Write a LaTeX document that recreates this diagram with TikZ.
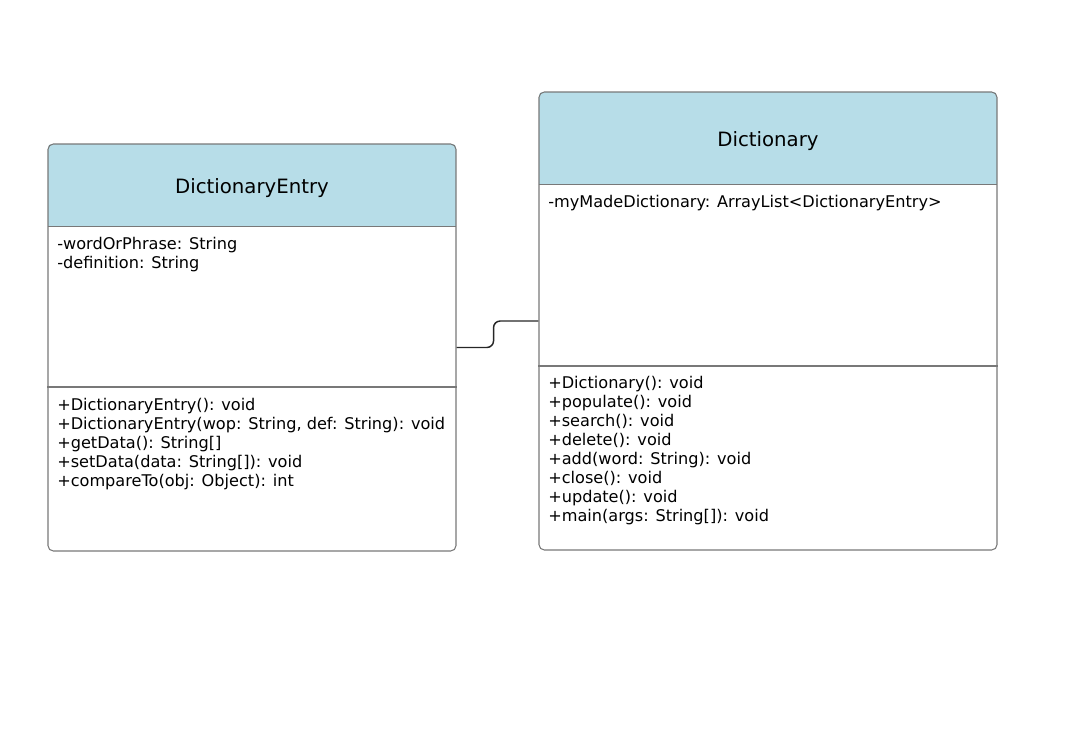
\documentclass[tikz,border=0pt]{standalone}
\usepackage{fontspec}
\setmainfont{DejaVu Sans}
\usetikzlibrary{%
    backgrounds,
    fit,
    positioning
}
\definecolor{headblue}{HTML}{B7DDE8}
\definecolor{edgegray}{HTML}{787878}
\tikzset{
    classbox/.style  = {draw=edgegray, line width=.8pt, rounded corners=4pt, inner sep=0pt},
    headarea/.style  = {inner sep=0pt},
    classname/.style = {font=\fontsize{14.8pt}{17pt}\selectfont, yshift=-2.5pt},
    member/.style    = {anchor=base west, inner sep=0pt, font=\fontsize{12.1pt}{14pt}\selectfont},
    divider/.style   = {draw=edgegray, line width=.8pt},
    assoc/.style     = {draw=black!85, line width=1.1pt, rounded corners=5pt}
}

\begin{document}
\begin{tikzpicture}[x=0.75pt, y=-0.75pt]
    \useasboundingbox (0,0) rectangle (1075,733);

    % class boxes
    \node[classbox, fit={(48,144) (456,551)}] (entry) {};
    \node[classbox, fit={(539,92) (997,550)}] (dict) {};

    % header areas
    \node[headarea, fit={(48,144) (456,226)}] (head-entry) {};
    \node[headarea, fit={(539,92) (997,184)}] (head-dict) {};
    \begin{scope}[on background layer]
        \foreach \Cls in {entry,dict}
            {
            \begin{scope}
                \clip[rounded corners=4pt] (\Cls.south west) rectangle (\Cls.north east);
                \fill[headblue] (head-\Cls.south west) rectangle (head-\Cls.north east);
            \end{scope}
            }
    \end{scope}
    \node[classname] (entryName) at (head-entry.center) {DictionaryEntry};
    \node[classname] (dictName) at (head-dict.center) {Dictionary};

    % compartment lines
    \foreach \Cls in {entry,dict}
        \draw[divider] (head-\Cls.south west) -- (head-\Cls.south east);
    \draw[divider] (entry.west |- 0,387) -- (entry.east |- 0,387);
    \draw[divider] (dict.west |- 0,366) -- (dict.east |- 0,366);

    % attributes
    \node[member] (entryAttr1) at (57,249) {-wordOrPhrase: String};
    \node[member] (entryAttr2) at (57,268) {-definition: String};
    \node[member] (dictAttr1) at (548,207) {-myMadeDictionary: ArrayList<DictionaryEntry>};

    % operations
    \foreach \Txt [count=\i] in {%
        +DictionaryEntry(): void,
        {+DictionaryEntry(wop: String, def: String): void},
        +getData(): String[],
        +setData(data: String[]): void,
        +compareTo(obj: Object): int%
        }
        \node[member] (entryOp\i) at (57,391+19*\i) {\Txt};
    \foreach \Txt [count=\i] in {%
        +Dictionary(): void,
        +populate(): void,
        +search(): void,
        +delete(): void,
        +add(word: String): void,
        +close(): void,
        +update(): void,
        +main(args: String[]): void%
        }
        \node[member] (dictOp\i) at (548,369+19*\i) {\Txt};

    % association
    \draw[assoc] (entry.east) -- ++(37,0) |- (dict.west);
\end{tikzpicture}
\end{document}
